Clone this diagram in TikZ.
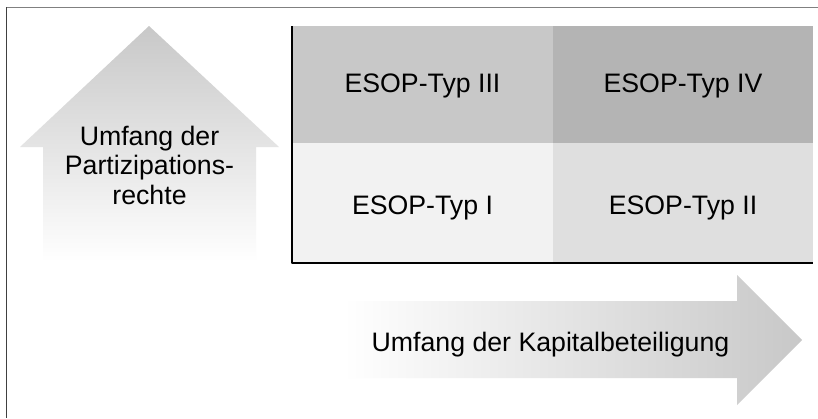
\documentclass[tikz,border=0pt]{standalone}
\usepackage{fontspec}
\setmainfont{Liberation Sans}
\begin{document}
\begin{tikzpicture}[x=1pt,y=-1pt,
  lbl/.style={font=\fontsize{26.7}{29.5}\selectfont, inner sep=0pt, anchor=base, align=center},
  gridline/.style={line width=1.5pt, black},
  framebar/.style={line width=1.8pt}]
\definecolor{cTL}{RGB}{200,200,200}
\definecolor{cTR}{RGB}{180,180,180}
\definecolor{cBL}{RGB}{242,242,242}
\definecolor{cBR}{RGB}{223,223,223}
\definecolor{arrowgray}{RGB}{200,200,200}
\definecolor{frametop}{RGB}{128,128,128}
\definecolor{frameleft}{RGB}{64,64,64}
\useasboundingbox (0,0) rectangle (818,418);
\fill[white] (0,0) rectangle (818,418);

% outer frame (top and left edges)
\draw[framebar, frametop] (6,7.5) -- (818,7.5);
\draw[framebar, frameleft] (6.5,7) -- (6.5,418);

% upward arrow with vertical fade
\shade[top color=arrowgray, bottom color=white]
  (149,26) -- (279,147) -- (256,147) -- (256,262) -- (43,262)
  -- (43,147) -- (20,147) -- cycle;

% rightward arrow with horizontal fade
\shade[left color=white, right color=arrowgray]
  (343,301) -- (737,301) -- (737,275) -- (802,340) -- (737,405)
  -- (737,378) -- (343,378) -- cycle;

% 2x2 matrix of ESOP types
\fill[cTL] (292,26) rectangle (553,143);
\fill[cTR] (553,26) rectangle (813,143);
\fill[cBL] (292,143) rectangle (553,263);
\fill[cBR] (553,143) rectangle (813,263);
\draw[gridline, line join=round] (292,26) -- (292,263) -- (813,263);

\node[lbl] (t3) at (422.5,92.7) {ESOP-Typ III};
\node[lbl] (t4) at (683,92.7) {ESOP-Typ IV};
\node[lbl] (t1) at (422.5,214) {ESOP-Typ I};
\node[lbl] (t2) at (683,214) {ESOP-Typ II};

% base anchor of a multi-line node sits on its last line
\node[lbl] (vert) at (149.5,204) {Umfang der\\Partizipations-\\rechte};
\node[lbl] (horiz) at (550.5,351) {Umfang der Kapitalbeteiligung};
\end{tikzpicture}
\end{document}
